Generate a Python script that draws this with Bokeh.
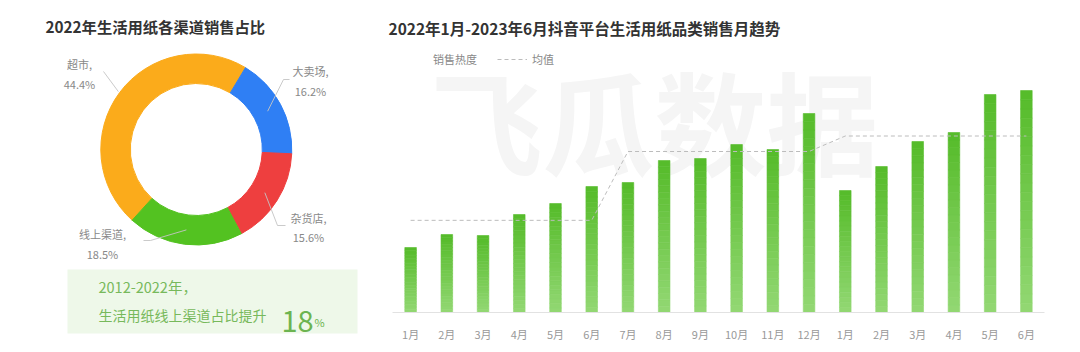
import numpy as np
from bokeh.plotting import figure
from bokeh.models import (ColumnDataSource, Label, Legend, LegendItem,
                          FixedTicker, Range1d, LinearAxis)
from bokeh.core.properties import value
from bokeh.embed import file_html
from bokeh.resources import INLINE

FONT = "Noto Sans CJK SC"

# ---------------- data ----------------
left_title = "2022年生活用纸各渠道销售占比"
channels = ["超市", "大卖场", "杂货店", "线上渠道"]
shares = [44.4, 16.2, 15.6, 18.5]
channel_colors = ["#fbab1b", "#2f7ff4", "#ee3f3f", "#53c221"]

note_line1 = "2012-2022年，"
note_line2 = "生活用纸线上渠道占比提升"
note_value = "18"
note_unit = "%"

right_title = "2022年1月-2023年6月抖音平台生活用纸品类销售月趋势"
months = ["1月", "2月", "3月", "4月", "5月", "6月", "7月", "8月", "9月",
          "10月", "11月", "12月", "1月", "2月", "3月", "4月", "5月", "6月"]
sales = [65, 78, 77, 98, 109, 126, 130, 152, 154, 168, 163, 199,
         122, 146, 171, 180, 218, 222]
half_years = [(0, 6), (6, 12), (12, 18)]
legend_labels = ["销售热度", "均值"]
watermark = "飞瓜数据"

# ---------------- canvas (one figure, page-like default ranges) ----------------
W, H = 1080, 352
MB = 12  # bottom panel reserved for the month axis
p = figure(width=W, height=H, x_range=Range1d(0, W), y_range=Range1d(MB, H),
           output_backend="svg", toolbar_location=None,
           x_axis_location=None, y_axis_location=None,
           min_border_left=0, min_border_right=0, min_border_top=0,
           min_border_bottom=MB)
p.grid.visible = False
p.outline_line_color = None
p.background_fill_color = "white"
p.border_fill_color = "white"

# bar chart scales: categories 0..n-1 spread over page x 392..1044, baseline at page y 312
n = len(sales)
fx0, fx1 = 392.0, 1044.0
upx = n / (fx1 - fx0)
p.extra_x_ranges = {"bx": Range1d(-0.5 - fx0 * upx, n - 0.5 + (W - fx1) * upx)}
p.extra_y_ranges = {"by": Range1d(MB - 40, 312)}

# ---------------- left: donut ----------------
cx, cy = 195.8, H - 149.0
r_in, r_out = 66.0, 95.5
start_cw = 222.2  # degrees clockwise from 12 o'clock where the first slice starts
fr = np.array(shares) / sum(shares)
cum = np.concatenate([[0], np.cumsum(fr)])
th0 = start_cw + cum[:-1] * 360
th1 = start_cw + cum[1:] * 360
src_d = ColumnDataSource(dict(
    start=np.radians(90 - th0), end=np.radians(90 - th1), color=channel_colors))
p.annular_wedge(x=cx, y=cy, inner_radius=r_in, outer_radius=r_out,
                start_angle="start", end_angle="end", direction="clock",
                color="color", source=src_d)

# leader lines + labels (label placement styling, page coords)
mid = np.radians((th0 + th1) / 2)
start_r = [97, 81, 81, 81]
line_ends = [[(103, 71)], [(283, 79), (289, 79)], [(277, 225), (285, 225)],
             [(150, 240), (143, 240)]]
label_pos = [(79, 63, 83), (310, 70, 90), (308, 217, 236), (102, 233, 253)]
for i in range(len(channels)):
    sx = cx + start_r[i] * np.sin(mid[i])
    sy = cy + start_r[i] * np.cos(mid[i])
    xs = [sx] + [q[0] for q in line_ends[i]]
    ys = [sy] + [H - q[1] for q in line_ends[i]]
    p.line(xs, ys, line_color="#c4c4c4", line_width=1, line_alpha=0.9)
    lx, ly1, ly2 = label_pos[i]
    p.add_layout(Label(x=lx, y=H - ly1, text=channels[i] + ",", text_font=FONT,
                       text_font_size="11px", text_color="#888888",
                       text_align="center", text_baseline="middle"))
    p.add_layout(Label(x=lx, y=H - ly2, text=f"{shares[i]:.1f}%", text_font=FONT,
                       text_font_size="11px", text_color="#888888",
                       text_align="center", text_baseline="middle"))

p.add_layout(Label(x=45, y=H - 25, text=left_title, text_font=FONT,
                   text_font_size="15.3px", text_font_style="bold",
                   text_color="#333333", text_baseline="middle"))

# note box
p.quad(left=67, right=357, bottom=H - 333, top=H - 269,
       fill_color="#eef8e9", line_color=None)
note_color = "#77b95b"
p.add_layout(Label(x=98, y=H - 286, text=note_line1, text_font=FONT,
                   text_font_size="14.5px", text_color=note_color, text_baseline="middle"))
p.add_layout(Label(x=98, y=H - 314, text=note_line2, text_font=FONT,
                   text_font_size="14px", text_color=note_color, text_baseline="middle"))
p.add_layout(Label(x=281, y=H - 321, text=note_value, text_font=FONT,
                   text_font_size="29px", text_color="#6cb450",
                   text_baseline="alphabetic"))
p.add_layout(Label(x=314, y=H - 321, text=note_unit, text_font=FONT,
                   text_font_size="11px", text_color="#6cb450",
                   text_baseline="alphabetic"))

# ---------------- right: bars ----------------
p.add_layout(Label(x=0.55, y=194, x_range_name="bx", y_range_name="by", text=watermark,
                   text_font=FONT, text_font_size="112px", text_font_style="bold",
                   text_color="#f5f5f5", text_baseline="middle", level="underlay"))

# gradient bars built from stacked slices of each value
N = 24
top_rgb = np.array([0x55, 0xbb, 0x29])
bot_rgb = np.array([0x93, 0xd8, 0x74])
L, R, B, T, C = [], [], [], [], []
bw = 0.32
for i, v in enumerate(sales):
    for k in range(N):
        t = (k + 0.5) / N
        c = bot_rgb + (top_rgb - bot_rgb) * t
        L.append(i - bw / 2); R.append(i + bw / 2)
        B.append(v * k / N); T.append(v * (k + 1) / N)
        C.append("#%02x%02x%02x" % tuple(int(round(q)) for q in c))
p.quad(left=L, right=R, bottom=B, top=T, fill_color=C, line_color=C, line_width=0.6,
       x_range_name="bx", y_range_name="by")

# baseline of the bar chart
p.segment(x0=[-0.5], y0=[0], x1=[n - 0.5], y1=[0], line_color="#e2e2e2", line_width=1,
          x_range_name="bx", y_range_name="by")

# mean line per half-year
mx, my = [], []
for a, b in half_years:
    m = float(np.mean(sales[a:b]))
    mx += [a, b - 1]
    my += [m, m]
mean_r = p.line(mx, my, line_color="#bcbcbc", line_width=1, line_dash="4 3",
                x_range_name="bx", y_range_name="by")

# legend
leg_bar = p.vbar(x=[], top=[], width=0.3, fill_color="#5cbf31", line_color=None,
                 x_range_name="bx", y_range_name="by")
legend = Legend(items=[LegendItem(label=legend_labels[0], renderers=[leg_bar]),
                       LegendItem(label=legend_labels[1], renderers=[mean_r])],
                location=(398, (H - MB) - 67), orientation="horizontal",
                glyph_width=30, glyph_height=6, label_standoff=5, spacing=20,
                padding=0, margin=0, border_line_color=None,
                background_fill_alpha=0, label_text_font=FONT,
                label_text_font_size="11px", label_text_color="#888888")
p.add_layout(legend)

p.add_layout(Label(x=388, y=H - 27, text=right_title, text_font=FONT,
                   text_font_size="15.5px", text_font_style="bold",
                   text_color="#333333", text_baseline="middle"))

# month axis (real axis, drawn at a fixed location just under the baseline)
ax = LinearAxis(x_range_name="bx", y_range_name="by", fixed_location=-13)
ax.ticker = FixedTicker(ticks=list(range(n)))
ax.major_label_overrides = {i: m for i, m in enumerate(months)}
ax.major_tick_line_color = None
ax.minor_tick_line_color = None
ax.major_tick_out = 0
ax.major_tick_in = 0
ax.axis_line_color = None
ax.major_label_text_font = FONT
ax.major_label_text_font_size = "11px"
ax.major_label_text_color = "#999999"
ax.major_label_standoff = 0
p.add_layout(ax, "below")

open("out.html", "w").write(file_html(p, INLINE))
